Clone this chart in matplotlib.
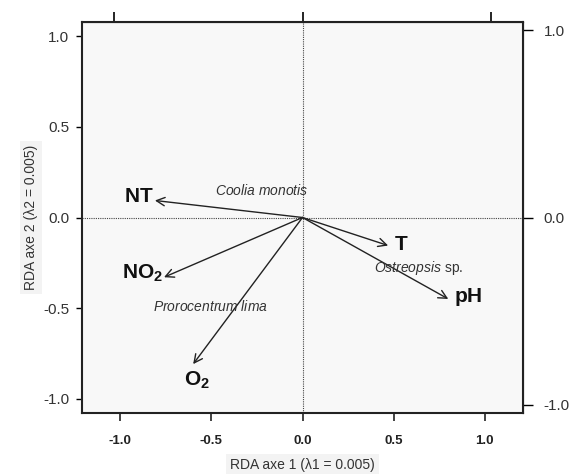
import matplotlib
matplotlib.use("Agg")
import matplotlib.pyplot as plt

plt.rcParams['font.family'] = ['Liberation Sans', 'DejaVu Sans']
plt.rcParams['mathtext.fontset'] = 'custom'
plt.rcParams['mathtext.rm'] = 'Liberation Sans'
plt.rcParams['mathtext.it'] = 'Liberation Sans:italic'
plt.rcParams['mathtext.bf'] = 'Liberation Sans:bold'

# environmental variable arrows (RDA biplot scores)
var_names = [r"$\mathbf{NT}$", r"$\mathbf{T}$", r"$\mathbf{NO_2}$", r"$\mathbf{pH}$", r"$\mathbf{O_2}$"]
var_x = [-0.81, 0.47, -0.76, 0.80, -0.60]
var_y = [0.094, -0.155, -0.33, -0.45, -0.81]
lab_x = [-0.90, 0.54, -0.88, 0.91, -0.58]
lab_y = [0.118, -0.15, -0.31, -0.44, -0.90]

# species scores (labels only)
sp_names = [r"$\it{Coolia\ monotis}$", r"$\it{Ostreopsis}$ sp.", r"$\it{Prorocentrum\ lima}$"]
sp_x = [-0.225, 0.64, -0.505]
sp_y = [0.15, -0.28, -0.49]

sec_ticks = [-1.0, 0.0, 1.0]
k = 1.035  # species scale factor of top/right axes

fig = plt.figure(figsize=(5.71, 4.74), dpi=100)
fig.patch.set_facecolor("white")
ax = fig.add_axes([82/571, 61/474, 441/571, 391/474])
ax.set_facecolor("#f8f8f8")
ax.set_xlim(-1.21, 1.21)
ax.set_ylim(-1.08, 1.08)

ax.axhline(0, color="#444444", lw=0.8, ls=(0, (1, 1)))
ax.axvline(0, color="#444444", lw=0.8, ls=(0, (1, 1)))

for x, y in zip(var_x, var_y):
    ax.annotate("", xy=(x, y), xytext=(0, 0),
                arrowprops=dict(arrowstyle="->,head_length=0.6,head_width=0.3",
                                color="#222222", lw=1.0, shrinkA=0, shrinkB=0))
for name, x, y in zip(var_names, lab_x, lab_y):
    ax.text(x, y, name, fontsize=15, ha="center", va="center", color="#111111")
for name, x, y in zip(sp_names, sp_x, sp_y):
    ax.text(x, y, name, fontsize=10, ha="center", va="center", color="#333333")

ax.set_xticks([-1.0, -0.5, 0.0, 0.5, 1.0])
ax.set_xticklabels(["-1.0", "-0.5", "0.0", "0.5", "1.0"], fontweight="bold")
ax.set_yticks([-1.0, -0.5, 0.0, 0.5, 1.0])
ax.set_yticklabels(["-1.0", "-0.5", "0.0", "0.5", "1.0"])
ax.tick_params(axis="x", direction="out", length=6, width=1.2, labelsize=9.5, pad=10, colors="#222222")
ax.tick_params(axis="y", direction="out", length=4, width=1, labelsize=11, pad=5, labelcolor="#333333")
for s in ax.spines.values():
    s.set_linewidth(1.5)
    s.set_color("#222222")

secx = ax.secondary_xaxis("top", functions=(lambda v: v / k, lambda v: v * k))
secx.set_xticks(sec_ticks)
secx.tick_params(direction="out", length=7, width=1.2, labeltop=False)
secy = ax.secondary_yaxis("right", functions=(lambda v: v / k, lambda v: v * k))
secy.set_yticks(sec_ticks)
secy.set_yticklabels(["-1.0", "0.0", "1.0"])
secy.tick_params(direction="out", length=7, width=1, labelsize=11, pad=8, labelcolor="#333333")

ax.set_xlabel("RDA axe 1 (\u03bb1 = 0.005)", fontsize=10, color="#333333", labelpad=8,
              bbox=dict(facecolor="#f3f3f3", edgecolor="none", pad=3))
ax.set_ylabel("RDA axe 2 (\u03bb2 = 0.005)", fontsize=10, color="#333333", labelpad=4,
              bbox=dict(facecolor="#f3f3f3", edgecolor="none", pad=3))

fig.savefig("out.png", dpi=100)
